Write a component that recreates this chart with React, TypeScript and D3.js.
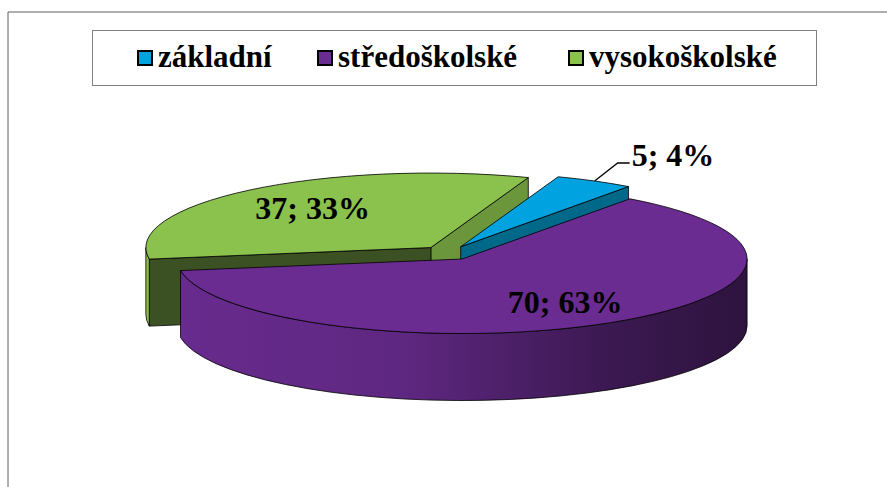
import * as d3 from "d3";

// chart data
const categories = ["základní", "středoškolské", "vysokoškolské"];
const values = [5, 70, 37];

// styles
const topColors = ["#00a3df", "#6a2c91", "#8bc14d"];
const startFaceColors = ["#00577a", "#4a2068", "#3c5123"];
const endFaceColors = ["#00698a", "#3a1a52", "#6b963c"];
const legendX = [137, 317, 568];

const W = 887;
const H = 487;
const cx = 448;
const cy = 253;
const rx = 285;
const ry = 74.5;
const depth = 67;
const explode = 27;
const firstSliceAngle = 20; // degrees, like excel
const fontFamily = "'Liberation Serif', 'Times New Roman', serif";

type Pt = [number, number];

const App = () => {
  const total = d3.sum(values);
  const start = (firstSliceAngle * Math.PI) / 180;
  const arcs = d3
    .pie<number>()
    .sort(null)
    .startAngle(start)
    .endAngle(start + 2 * Math.PI)(values);

  const slices = arcs.map((a, i) => {
    // d3 angles are from 12 o'clock, screen angles from 3 o'clock
    const t0 = a.startAngle - Math.PI / 2;
    const t1 = a.endAngle - Math.PI / 2;
    const mid = (t0 + t1) / 2;
    const ox = cx + explode * Math.cos(mid);
    const oy = cy + explode * (ry / rx) * Math.sin(mid);
    const pt = (t: number, dz = 0, r = 1): Pt => [
      ox + r * rx * Math.cos(t),
      oy + r * ry * Math.sin(t) + dz,
    ];
    return { i, t0, t1, mid, ox, oy, pt, value: values[i] };
  });

  const f = (p: Pt) => `${p[0].toFixed(2)},${p[1].toFixed(2)}`;

  const topPath = (s: any) => {
    const large = s.t1 - s.t0 > Math.PI ? 1 : 0;
    return `M${s.ox},${s.oy}L${f(s.pt(s.t0))}A${rx},${ry} 0 ${large} 1 ${f(
      s.pt(s.t1),
    )}Z`;
  };

  const facePath = (s: any, t: number) =>
    `M${s.ox},${s.oy}L${f(s.pt(t))}L${f(s.pt(t, depth))}L${s.ox},${s.oy + depth}Z`;

  // visible parts of the outer wall (front half of the ellipse)
  const sideParts: { s: any; a: number; b: number }[] = [];
  slices.forEach((s) => {
    for (let k = -1; k <= 2; k++) {
      const a = Math.max(s.t0, 2 * k * Math.PI);
      const b = Math.min(s.t1, 2 * k * Math.PI + Math.PI);
      if (b > a + 1e-4) sideParts.push({ s, a, b });
    }
  });
  const sidePath = (s: any, a: number, b: number) => {
    const large = b - a > Math.PI ? 1 : 0;
    return `M${f(s.pt(a))}A${rx},${ry} 0 ${large} 1 ${f(s.pt(b))}L${f(
      s.pt(b, depth),
    )}A${rx},${ry} 0 ${large} 0 ${f(s.pt(a, depth))}Z`;
  };

  // visible radial faces
  const faces: { s: any; t: number; color: string; key: string }[] = [];
  slices.forEach((s) => {
    if (Math.sin(s.t0 - Math.PI / 2) > 0)
      faces.push({ s, t: s.t0, color: startFaceColors[s.i], key: `s${s.i}` });
    if (Math.sin(s.t1 + Math.PI / 2) > 0)
      faces.push({ s, t: s.t1, color: endFaceColors[s.i], key: `e${s.i}` });
  });
  faces.sort(
    (a, b) =>
      (a.s.pt(a.t)[1] + a.s.oy) / 2 - (b.s.pt(b.t)[1] + b.s.oy) / 2,
  );

  const stroke = "#000";
  const sw = 0.8;

  return (
    <svg
      width={W}
      height={H}
      style={{ position: "absolute", left: 0, top: 0, background: "#fff" }}
    >
      <defs>
        {slices.map((s) => {
          const c = d3.color(topColors[s.i])!;
          return (
            <linearGradient
              key={s.i}
              id={`side${s.i}`}
              gradientUnits="userSpaceOnUse"
              x1={s.ox - rx}
              x2={s.ox + rx}
              y1={0}
              y2={0}
            >
              <stop offset="0" stopColor={c.darker(0.05).formatHex()} />
              <stop offset="0.4" stopColor={c.darker(0.35).formatHex()} />
              <stop offset="0.75" stopColor={c.darker(1.6).formatHex()} />
              <stop offset="1" stopColor={c.darker(2.4).formatHex()} />
            </linearGradient>
          );
        })}
      </defs>

      {/* chart frame */}
      <path d={`M8,${H}V12H${W}`} fill="none" stroke="#5f5f5f" strokeWidth={1} />

      {/* legend */}
      <rect x={92.5} y={30.5} width={724} height={55} fill="#fff" stroke="#7f7f7f" />
      {categories.map((c, i) => (
        <g key={c} transform={`translate(${legendX[i]},0)`}>
          <rect
            x={1}
            y={51}
            width={14}
            height={14}
            fill={topColors[i]}
            stroke="#000"
            strokeWidth={2}
          />
          <text
            x={21}
            y={67}
            fontFamily={fontFamily}
            fontWeight="bold"
            fontSize={31}
            fill="#000"
          >
            {c}
          </text>
        </g>
      ))}

      {/* pie: faces, walls, tops */}
      {faces.map((fc) => (
        <path
          key={fc.key}
          d={facePath(fc.s, fc.t)}
          fill={fc.color}
          stroke={stroke}
          strokeWidth={sw}
          strokeLinejoin="round"
        />
      ))}
      {sideParts.map((p, k) => (
        <path
          key={k}
          d={sidePath(p.s, p.a, p.b)}
          fill={`url(#side${p.s.i})`}
          stroke={stroke}
          strokeWidth={sw}
          strokeLinejoin="round"
        />
      ))}
      {slices.map((s) => (
        <path
          key={s.i}
          d={topPath(s)}
          fill={topColors[s.i]}
          stroke={stroke}
          strokeWidth={sw}
          strokeLinejoin="round"
        />
      ))}

      {/* data labels */}
      {slices.map((s) => {
        const pct = Math.round((s.value / total) * 100);
        const txt = `${s.value}; ${pct}%`;
        if (pct < 10) {
          const p0 = s.pt(s.mid);
          const p1: Pt = [p0[0] + 23, p0[1] - 18];
          const p2: Pt = [p1[0] + 12, p1[1]];
          return (
            <g key={s.i}>
              <path
                d={`M${f(p0)}L${f(p1)}L${f(p2)}`}
                fill="none"
                stroke="#000"
                strokeWidth={1.3}
              />
              <text
                x={p2[0] + 2}
                y={p2[1] + 3}
                fontFamily={fontFamily}
                fontWeight="bold"
                fontSize={32}
                fill="#000"
              >
                {txt}
              </text>
            </g>
          );
        }
        const p = s.pt(s.mid, 0, 0.68);
        return (
          <text
            key={s.i}
            x={p[0] + (s.i === 2 ? 5 : 2)}
            y={p[1] + 11}
            textAnchor="middle"
            fontFamily={fontFamily}
            fontWeight="bold"
            fontSize={32}
            fill="#000"
          >
            {txt}
          </text>
        );
      })}
    </svg>
  );
};

export default App;
